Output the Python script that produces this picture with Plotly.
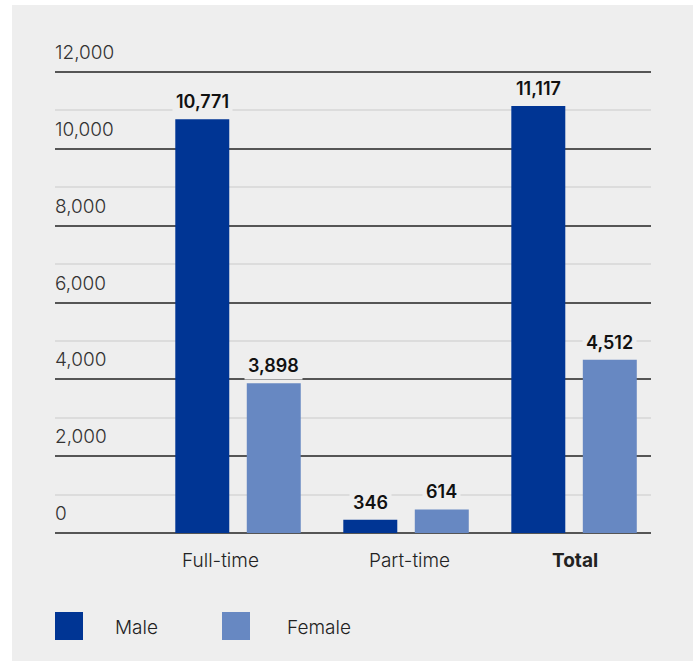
import plotly.graph_objects as go

categories = ["Full-time", "Part-time", "Total"]
male = [10771, 346, 11117]
female = [3898, 614, 4512]
series_names = ["Male", "Female"]
colors = ["#003594", "#6788c2"]
y_ticks = [0, 2000, 4000, 6000, 8000, 10000, 12000]
y_ticklabels = ["0", "2,000", "4,000", "6,000", "8,000", "10,000", "12,000"]

FONT = "Inter"
BG = "#eeeeee"
W, H = 697, 664
L, R, T, B = 55, 46, 70, 129
bargap = 0.149
bargroupgap = 0.245

fig = go.Figure()
for name, vals, col in zip(series_names, [male, female], colors):
    fig.add_trace(go.Bar(x=categories, y=vals, name=name, marker_color=col,
                         marker_line_width=0, showlegend=False))

slot = (1 - bargap) / 2
annotations = []
for si, vals in enumerate([male, female]):
    off = (-slot / 2) if si == 0 else (slot / 2)
    for ci, v in enumerate(vals):
        annotations.append(dict(x=ci + off, y=v, xref="x", yref="y", text=f"{v:,}",
                                showarrow=False, yanchor="bottom", yshift=3,
                                font=dict(family=FONT, size=18, color="#111", weight=600),
                                bgcolor=BG, borderpad=3))

# y tick labels above gridlines
for v, t in zip(y_ticks, y_ticklabels):
    annotations.append(dict(x=0, y=v, xref="paper", yref="y", text=t, showarrow=False,
                            xanchor="left", yanchor="bottom", yshift=6, xshift=-2,
                            font=dict(family=FONT, size=19, color="#333", weight=300)))

# category labels
xshifts = [-18, 3, 1]
for ci, c in enumerate(categories):
    txt = f"<b>{c}</b>" if c == "Total" else c
    annotations.append(dict(x=ci, y=0, xref="x", yref="paper", text=txt, showarrow=False,
                            yanchor="middle", yshift=-25, xshift=xshifts[ci],
                            font=dict(family=FONT, size=19, color="#222", weight=300)))

pw = W - L - R
ph = H - T - B
def px2x(px):
    return (px - L) / pw
def py2y(py):
    return (H - B - py) / ph

shapes = [dict(type="rect", xref="paper", yref="paper", x0=px2x(12), x1=px2x(693),
               y0=py2y(661), y1=py2y(5), fillcolor=BG, line_width=0, layer="below")]

# legend
leg_sq = [(55, 113), (222, 285)]
for (sx, tx), name, col in zip(leg_sq, series_names, colors):
    shapes.append(dict(type="rect", xref="paper", yref="paper", x0=px2x(sx), x1=px2x(sx + 28),
                       y0=py2y(640), y1=py2y(612), fillcolor=col, line_width=0))
    annotations.append(dict(x=px2x(tx), y=py2y(627), xref="paper", yref="paper", text=name,
                            showarrow=False, xanchor="left", yanchor="middle",
                            font=dict(family=FONT, size=19, color="#222", weight=300)))

fig.update_layout(
    width=W, height=H, margin=dict(l=L, r=R, t=T, b=B),
    paper_bgcolor="white", plot_bgcolor=BG,
    barmode="group", bargap=bargap, bargroupgap=bargroupgap,
    shapes=shapes, annotations=annotations,
    xaxis=dict(range=[-1.0893, 2.458], showticklabels=False, showgrid=False,
               zeroline=False, showline=False, fixedrange=True),
    yaxis=dict(range=[-52, 12052], tickvals=y_ticks, showticklabels=False,
               showgrid=True, gridcolor="#555555",
               gridwidth=1.5, zeroline=False, showline=False,
               minor=dict(dtick=1000, showgrid=True, gridcolor="#dcdcdc", gridwidth=2),
               layer="below traces"),
    font=dict(family=FONT),
)

fig.write_html("out.html")
